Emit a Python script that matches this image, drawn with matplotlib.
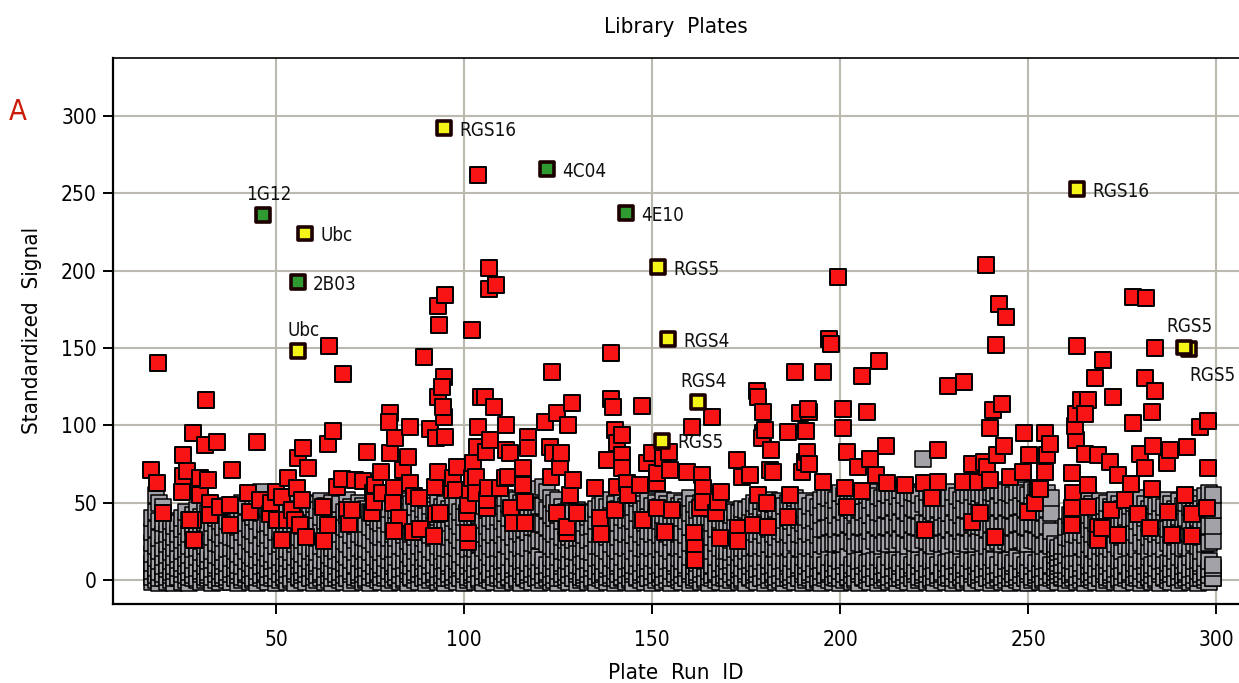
import matplotlib
matplotlib.use("Agg")
import matplotlib.pyplot as plt
from matplotlib import font_manager

# ---------------------------------------------------------------- data
# wells below the per-plate hit threshold, one row per plate run id
gray_plate_start = 17
gray_signal = [
    [-1,2,6,11,17,24,31,40], [0,3,8,14,22,33,44,55], [-2,1,5,12,19,27,38,50], [1,4,9,15,21,29,37,47], [-1,2,7,10,16,23,30,36],
    [0,3,5,12,18,25,31,38], [-2,1,6,9,15,21,28,35], [1,2,8,13,17,24,30,37], [-1,4,7,11,19,26,33,40], [0,3,9,14,20,28,35,44],
    [-2,2,5,10,16,22,30,39], [1,3,7,13,20,27,34,42], [0,1,8,15,21,29,36,45], [-1,4,6,11,18,25,33,41], [0,2,9,14,22,30,37,46],
    [1,3,5,12,17,26,34,43], [-2,2,7,13,19,28,37,47], [0,4,8,10,16,24,31,40], [-1,1,6,15,23,30,38,44], [1,3,9,12,18,27,34,42],
    [0,2,5,11,20,29,38,48], [-1,4,7,14,21,28,36,45], [1,1,8,13,19,27,37,46], [-2,3,6,10,17,26,34,43], [0,2,9,15,22,31,40,50],
    [1,4,5,12,19,28,37,48], [-1,3,7,11,16,25,33,44], [0,1,8,14,23,32,41,52], [-2,2,6,13,20,29,38,49], [1,3,9,15,22,33,44,57],
    [0,4,5,10,18,27,36,47], [-1,2,7,14,21,29,37,46], [1,3,8,12,17,26,34,44], [-2,1,6,13,22,31,39,48], [0,4,9,15,23,32,41,50],
    [1,2,5,11,19,28,36,45], [-1,3,7,14,20,30,39,49], [0,1,8,12,18,27,36,47], [-2,4,6,15,23,31,41,51], [1,2,9,13,19,28,37,46],
    [0,3,5,10,17,26,35,44], [-1,4,7,14,22,31,40,50], [1,1,8,12,19,28,37,47], [-2,2,6,15,21,30,39,49], [0,3,9,11,18,27,35,45],
    [1,4,5,13,22,32,41,51], [-1,2,7,12,20,29,38,48], [0,3,8,10,16,25,34,43], [-2,1,6,14,21,31,40,50], [1,4,9,13,19,27,36,46],
    [0,2,5,12,20,30,39,49], [-1,3,7,11,17,25,34,44], [1,1,8,15,23,33,42,52], [-2,4,6,13,20,29,38,47], [0,2,9,10,18,26,35,45],
    [1,3,5,14,21,30,40,50], [-1,4,7,12,19,28,37,48], [0,1,8,13,20,27,36,46], [-2,2,6,11,18,26,34,44], [1,3,9,15,23,32,41,51],
    [0,4,5,12,20,29,38,48], [-1,2,7,10,18,28,37,47], [1,3,8,14,21,30,39,49], [-2,1,6,13,19,27,36,46], [0,4,9,11,20,30,40,50],
    [1,2,5,15,20,27,35,45], [-1,3,7,12,22,32,41,51], [0,1,8,13,21,29,38,48], [-2,4,6,10,17,25,34,44], [1,2,9,14,22,30,39,49],
    [0,3,5,11,19,28,37,47], [-1,4,7,15,22,31,40,50], [1,1,8,12,18,27,36,46], [-2,2,6,14,23,32,42,52], [0,3,9,13,20,29,38,48],
    [1,4,5,10,18,27,35,45], [-1,2,7,15,22,32,41,51], [0,3,8,12,19,29,38,47], [-2,1,6,13,21,30,39,49], [1,4,9,11,20,28,37,46],
    [0,2,5,14,22,31,40,50], [-1,3,7,12,21,29,38,48], [1,1,8,10,17,26,35,44], [-2,4,6,15,22,31,41,51], [0,2,9,13,20,29,38,47],
    [1,3,5,11,21,30,39,49], [-1,4,7,14,20,28,37,46], [0,1,8,12,23,32,42,52], [-2,2,6,13,21,30,39,48], [1,3,9,10,18,27,35,45],
    [0,4,5,15,22,31,40,50], [-1,2,7,11,20,29,38,47], [1,3,8,14,21,31,41,51], [-2,1,6,12,20,29,38,48], [0,4,9,13,23,33,43,53],
    [1,2,5,15,22,31,40,49], [-1,3,7,10,19,28,37,46], [0,1,8,14,23,32,42,52], [-2,4,6,12,21,30,40,50], [1,2,9,13,22,33,44,54],
    [0,3,5,11,21,31,41,51], [-1,4,7,14,24,34,45,56], [1,1,8,12,23,34,44,55], [-2,2,6,15,26,37,48,59], [0,3,9,13,25,36,48,60],
    [1,4,5,10,23,34,45,57], [-1,2,7,14,22,32,42,53], [0,3,8,12,20,30,40,50], [-2,1,6,15,22,32,42,52], [1,4,9,11,19,28,38,47],
    [0,2,5,13,18,26,35,44], [-1,3,7,12,20,28,37,46], [1,1,8,14,19,26,35,43], [-2,4,6,10,18,27,36,45], [0,2,9,15,20,27,34,42],
    [1,3,5,12,21,29,37,44], [-1,4,7,13,19,26,34,41], [0,1,8,11,18,27,35,43], [-2,2,6,14,22,30,38,46], [1,3,9,15,22,31,40,48],
    [0,4,5,12,21,30,40,50], [-1,2,7,10,19,28,38,47], [1,3,8,14,23,33,42,52], [-2,1,6,13,21,30,39,49], [0,4,9,11,19,28,37,46],
    [1,2,5,15,22,31,41,51], [-1,3,7,12,21,30,39,48], [0,1,8,13,22,31,40,50], [-2,4,6,10,19,29,38,47], [1,2,9,14,24,33,43,53],
    [0,3,5,11,21,30,39,49], [-1,4,7,15,20,28,37,46], [1,1,8,12,22,32,41,51], [-2,2,6,14,21,30,39,48], [0,3,9,13,22,31,40,50],
    [1,4,5,10,20,29,38,47], [-1,2,7,15,23,33,42,52], [0,3,8,12,21,30,39,49], [-2,1,6,13,19,28,37,46], [1,4,9,11,22,32,41,51],
    [0,2,5,14,21,30,39,48], [-1,3,7,12,22,31,40,50], [1,1,8,10,20,29,38,47], [-2,4,6,15,24,34,43,53], [0,2,9,13,22,31,40,49],
    [1,3,5,11,19,28,36,45], [-1,4,7,14,22,31,40,50], [0,1,8,12,21,30,39,48], [-2,2,6,13,22,32,41,51], [1,3,9,10,19,28,37,46],
    [0,4,5,15,24,33,43,52], [-1,2,7,11,21,30,39,49], [1,3,8,14,19,27,36,44], [-2,1,6,12,19,27,36,45], [0,4,9,13,18,26,34,42],
    [1,2,5,15,20,28,36,44], [-1,3,7,10,18,26,34,43], [0,1,8,14,21,29,37,46], [-2,4,6,12,19,28,36,45], [1,2,9,13,21,30,38,47],
    [0,3,5,11,22,31,41,50], [-1,4,7,14,21,30,39,48], [1,1,8,12,22,32,41,51], [-2,2,6,15,21,29,38,47], [0,3,9,13,23,33,42,52],
    [1,4,5,10,21,30,39,49], [-1,2,7,15,20,28,37,46], [0,3,8,12,22,32,41,51], [-2,1,6,13,21,30,39,48], [1,4,9,11,22,31,40,50],
    [0,2,5,14,20,29,38,47], [-1,3,7,12,24,34,43,53], [1,1,8,10,21,30,39,49], [-2,4,6,15,20,29,37,46], [0,2,9,13,22,32,41,51],
    [1,3,5,11,21,30,39,48], [-1,4,7,14,22,31,40,50], [0,1,8,12,20,29,38,47], [-2,2,6,13,23,33,42,52], [1,3,9,10,22,33,44,54],
    [0,4,5,15,23,34,44,53], [-1,2,7,11,24,35,45,55], [1,3,8,14,23,33,42,52], [-2,1,6,12,24,35,46,56], [0,4,9,13,23,34,44,54],
    [1,2,5,15,25,36,47,57], [-1,3,7,10,24,35,45,55], [0,1,8,14,22,32,43,53], [-2,4,6,12,24,35,46,56], [1,2,9,13,23,34,44,54],
    [0,3,5,11,24,35,45,55], [-1,4,7,14,22,32,42,52], [1,1,8,12,25,36,47,57], [-2,2,6,15,23,34,44,54], [0,3,9,13,22,33,43,53],
    [1,4,5,10,24,35,46,56], [-1,2,7,15,23,34,45,55], [0,3,8,12,25,36,47,57], [-2,1,6,13,23,34,44,54], [1,4,9,11,26,37,48,58],
    [0,2,5,14,23,34,45,55], [-1,3,7,12,22,33,43,53], [1,1,8,10,25,36,47,57], [-2,4,6,15,24,35,46,56], [0,2,9,13,23,34,45,55],
    [1,3,5,11,26,37,49,78], [-1,4,7,14,25,36,47,57], [0,1,8,12,23,34,45,55], [-2,2,6,13,22,33,43,53], [1,3,9,10,24,35,46,56],
    [0,4,5,15,23,34,44,54], [-1,2,7,11,24,35,45,55], [1,3,8,14,22,33,43,53], [-2,1,6,12,25,36,47,57], [0,4,9,13,23,34,44,54],
    [1,2,5,15,22,32,42,52], [-1,3,7,10,24,35,46,56], [0,1,8,14,23,34,45,55], [-2,4,6,12,25,36,47,57], [1,2,9,13,23,34,44,54],
    [0,3,5,11,25,35,46,56], [-1,4,7,14,24,34,45,55], [1,1,8,12,22,33,43,53], [-2,2,6,15,25,36,47,57], [0,3,9,13,24,35,46,56],
    [1,4,5,10,25,36,47,58], [-1,2,7,15,23,34,45,55], [0,3,8,12,25,36,47,57], [-2,1,6,13,24,35,46,56], [1,4,9,11,23,34,45,55],
    [0,2,5,14,25,36,47,57], [-1,3,7,12,26,37,48,58], [1,1,8,10,24,35,46,56], [-2,4,6,15,23,34,45,55], [0,2,9,13,26,37,48,58],
    [1,3,5,11,25,36,47,57], [-1,4,7,14,23,34,45,55], [0,1,8,12,22,33,44,54], [-2,2,6,13,24,35,46,56], [1,3,9,10,22,32,43,53],
    [0,2,5,8,12,16,20,23], [-1,3,6,9,11,14,18,21], [1,2,4,7,10,15,19,22], [-2,1,6,10,16,22,28,34], [0,3,8,13,20,27,35,42],
    [1,4,5,12,21,30,39,48], [-1,2,7,14,21,29,38,47], [0,3,8,11,22,31,40,50], [-2,1,6,15,20,29,38,47], [1,4,9,13,23,33,42,52],
    [0,2,5,10,21,30,39,49], [-1,3,7,14,19,28,37,46], [1,1,8,12,22,32,41,51], [-2,4,6,15,21,30,39,48], [0,2,9,13,22,31,40,50],
    [1,3,5,11,20,29,38,47], [-1,4,7,14,23,33,42,52], [0,1,8,12,21,30,39,49], [-2,2,6,13,19,28,37,46], [1,3,9,10,22,32,41,51],
    [0,4,5,15,21,30,39,48], [-1,2,7,11,22,31,40,50], [1,3,8,14,20,29,38,47], [-2,1,6,12,24,34,43,53], [0,4,9,13,22,31,40,49],
    [1,2,5,15,19,28,37,46], [-1,3,7,10,22,32,41,51], [0,1,8,14,21,30,39,48], [-2,4,6,12,22,31,40,50], [1,2,9,13,20,29,38,47],
    [0,3,5,11,24,33,43,52], [-1,4,7,14,21,30,39,49], [1,1,8,12,19,28,37,46], [-2,2,6,15,22,32,41,51], [0,3,9,13,21,30,39,48],
    [1,4,5,10,22,31,40,50], [-1,2,7,15,21,30,38,47], [0,3,8,12,24,34,43,53], [-2,1,6,13,22,31,40,49], [1,4,9,11,19,28,37,46],
    [0,2,5,14,23,33,44,54], [-1,3,7,12,24,35,46,56], [1,1,8,10,25,35,45,55],
]

# wells flagged as hits (plate run id, standardized signal)
hit_plate = [
    16.9, 18.5, 18.4, 20.0, 25.4, 25.3, 24.9, 28.0, 28.0, 28.3, 26.4, 27.1, 29.9, 29.8,
    31.4, 31.1, 32.0, 32.5, 32.5, 34.2, 35.1, 37.9, 37.8, 38.3, 42.5, 43.1, 44.9, 45.7,
    48.4, 48.8, 49.9, 50.2, 51.5, 51.5, 52.8, 53.3, 54.2, 55.0, 55.5, 55.9, 57.2, 56.8, 56.4, 58.6, 58.1,
    62.6, 63.9, 64.2, 65.2, 66.1, 67.5, 67.9, 68.8, 69.4, 70.1, 71.0, 62.8, 63.7, 73.2, 74.2, 75.6,
    75.9, 76.3, 76.1, 78.0, 78.1, 80.2, 80.1, 80.2, 81.6, 81.5, 81.2, 82.8, 81.3,
    83.8, 85.0, 85.6, 85.6, 86.7, 86.5, 88.0, 88.3, 89.3, 90.9, 92.2, 92.5, 92.5, 92.0, 93.1, 93.2,
    93.0, 93.0, 94.7, 94.1, 94.9, 94.7, 94.5, 94.9, 93.6, 96.7, 97.1, 97.8, 98.2,
    100.7, 101.1, 101.1, 101.1, 101.6, 102.2, 102.2, 102.5, 103.2, 103.3, 103.5, 103.7, 103.8, 104.4,
    105.6, 105.8, 106.0, 106.0, 106.4, 106.6, 106.6, 106.9, 108.5, 108.0, 109.5, 110.9, 111.2, 111.1,
    111.8, 112.2, 112.6, 112.9, 115.6, 115.7, 116.2, 116.2, 117.1, 117.1,
    121.5, 122.8, 123.1, 123.4, 123.7, 124.6, 124.6, 125.5, 125.8, 127.3, 127.4, 127.7, 128.2, 128.6,
    129.0, 129.9, 134.8, 136.1, 136.4, 137.9, 139.0, 139.1, 139.7,
    140.1, 140.1, 140.6, 140.6, 141.9, 141.9, 141.9, 143.2, 143.7, 146.8, 147.2, 147.6, 148.5, 149.9,
    151.2, 151.2, 151.2, 153.0, 153.4, 154.5, 154.7, 155.2, 159.2, 160.6,
    161.0, 161.4, 161.4, 162.7, 163.3, 163.6, 163.6, 165.9, 167.1, 167.6, 168.0, 168.3, 172.5, 172.9,
    172.9, 173.8, 176.0, 176.9, 177.8, 178.2, 178.2, 179.4, 179.5, 179.1,
    180.0, 180.4, 180.9, 181.3, 181.5, 182.0, 186.2, 186.2, 186.6, 188.0, 189.3, 189.9, 191.0, 190.6,
    191.1, 191.7, 191.4, 191.7, 195.5, 195.5, 197.0, 197.5, 199.4,
    200.7, 200.7, 201.2, 201.7, 201.9, 204.8, 205.7, 205.9, 207.1, 207.8, 209.6, 210.2, 212.1, 212.3, 217.2,
    222.2, 222.6, 224.3, 226.1, 226.1, 228.6, 233.0, 232.7, 234.9, 234.9, 236.7, 237.1, 238.3, 238.7,
    238.9, 239.8, 239.8,
    240.6, 241.1, 241.4, 241.6, 242.2, 243.0, 243.6, 244.0, 245.1, 248.6, 248.9, 250.2, 250.0, 251.8,
    252.6, 254.4, 254.4, 254.9, 255.7, 253.1,
    261.5, 262.0, 261.5, 261.5, 262.8, 262.4, 262.8, 262.9, 264.0, 265.9, 265.0, 265.0, 265.9, 265.9,
    267.7, 268.6, 268.6, 268.6, 269.5, 269.9, 271.7, 272.1, 272.6, 273.9, 273.9, 275.7,
    277.4, 277.9, 277.9, 279.2, 279.7, 281.0, 281.0, 281.2, 282.3, 282.8, 282.8, 283.2, 283.6, 283.8,
    286.8, 287.2, 287.6, 288.1, 291.6, 292.1, 293.4, 293.4, 295.6, 297.8, 297.8, 297.4,
]
hit_signal = [
    71.0, 140.5, 62.5, 43.0, 80.8, 67.0, 57.0, 94.9, 38.8, 25.9, 70.7, 38.8, 66.0, 55.0,
    116.3, 87.3, 64.7, 49.7, 42.0, 89.5, 47.4, 48.5, 35.6, 70.9, 56.0, 44.2, 89.3, 51.7,
    42.5, 49.6, 57.1, 38.8, 53.9, 25.9, 38.8, 65.8, 45.3, 38.8, 59.3, 78.7, 85.3, 51.7, 35.6, 72.2, 28.0,
    47.4, 88.2, 151.5, 96.5, 60.3, 65.1, 133.5, 45.3, 36.0, 45.2, 64.7, 25.4, 35.6, 64.2, 83.0, 43.1,
    56.0, 61.4, 50.6, 69.8, 56.0, 108.2, 101.9, 81.9, 91.6, 59.7, 49.6, 39.9, 31.8,
    71.1, 79.7, 99.0, 62.5, 54.0, 31.3, 52.8, 32.8, 144.2, 97.6, 60.3, 91.6, 42.7, 28.5, 70.0, 165.0,
    177.0, 118.5, 131.5, 125.0, 184.3, 105.6, 111.6, 92.7, 43.1, 58.2, 65.8, 58.2, 73.3,
    43.1, 24.8, 30.2, 48.5, 58.2, 161.4, 65.7, 75.5, 56.5, 66.8, 86.0, 261.8, 99.2, 118.5,
    118.5, 83.0, 46.4, 51.7, 59.3, 201.7, 188.0, 90.5, 190.7, 112.0, 59.3, 65.7, 100.2, 84.0,
    66.8, 81.9, 46.4, 36.6, 72.2, 61.4, 50.6, 36.7, 92.7, 85.1,
    102.4, 86.2, 66.8, 134.5, 81.9, 107.8, 43.1, 73.3, 81.9, 30.2, 34.5, 100.2, 54.9, 114.2,
    64.7, 43.1, 59.3, 39.9, 29.7, 77.6, 146.8, 117.0, 112.1,
    97.0, 45.3, 60.3, 88.4, 93.7, 80.8, 72.2, 62.5, 55.0, 61.4, 112.3, 38.8, 75.4, 81.9,
    62.5, 69.0, 46.4, 78.7, 31.3, 83.0, 71.1, 45.3, 70.0, 99.2,
    30.2, 20.5, 13.0, 46.4, 67.9, 59.3, 50.6, 105.4, 43.1, 50.6, 27.0, 57.1, 77.6, 33.4,
    25.4, 66.8, 67.6, 35.6, 122.2, 118.1, 54.9, 108.8, 94.9, 91.6,
    97.0, 49.6, 34.5, 71.1, 84.0, 70.0, 95.6, 41.0, 55.0, 134.5, 107.8, 70.0, 96.2, 76.5,
    83.0, 108.8, 110.6, 75.0, 134.3, 63.1, 155.5, 152.5, 195.9,
    110.5, 98.3, 59.3, 47.4, 83.0, 73.3, 57.6, 131.9, 108.9, 78.3, 67.9, 141.7, 86.6, 62.5, 61.4,
    62.5, 32.2, 52.8, 63.6, 84.0, 125.4, 128.0, 63.6, 74.8, 37.7, 63.1, 43.0, 76.5, 203.7,
    73.3, 98.1, 64.7,
    110.0, 28.0, 152.0, 80.8, 178.4, 113.8, 86.8, 170.0, 66.8, 70.0, 95.3, 80.8, 44.2, 49.6,
    59.3, 94.9, 70.0, 80.8, 88.2, 58.8,
    69.0, 56.0, 35.6, 46.3, 90.5, 99.6, 107.5, 151.3, 116.6, 116.2, 107.5, 81.4, 61.4, 47.4,
    130.6, 80.8, 34.5, 26.1, 33.9, 142.1, 76.5, 45.3, 118.4, 67.9, 29.4, 52.0,
    62.3, 101.3, 183.0, 42.9, 81.4, 72.5, 130.9, 182.0, 33.9, 108.7, 59.0, 86.4, 150.2, 122.3,
    75.6, 44.1, 84.1, 29.4, 55.0, 86.0, 42.9, 28.2, 99.2, 102.5, 72.5, 46.4,
]

# confirmed controls and named hits
named_plate = [46.5, 57.7, 55.8, 55.8, 94.7, 122.0, 143.0, 151.5, 154.2, 162.2, 152.6, 262.9, 292.7, 291.4]
named_signal = [236.0, 224.0, 192.7, 148.0, 292.0, 265.7, 237.0, 202.4, 155.8, 115.0, 90.0, 252.8, 149.5, 150.3]
named_label = ["1G12", "Ubc", "2B03", "Ubc", "RGS16", "4C04", "4E10", "RGS5", "RGS4", "RGS4", "RGS5", "RGS16", "RGS5", "RGS5"]
named_kind = ["clone", "control", "clone", "control", "control", "clone", "clone",
              "control", "control", "control", "control", "control", "control", "control"]
label_side = ["above", "right", "right", "above", "right", "right", "right",
              "right", "right", "above", "right", "right", "below", "above"]

x_ticks = [50, 100, 150, 200, 250, 300]
y_ticks = [0, 50, 100, 150, 200, 250, 300]

# ---------------------------------------------------------------- style
# prefer a narrow sans face when one is installed
family, stretch = "DejaVu Sans", "normal"
for f in font_manager.fontManager.ttflist:
    if f.name == "Liberation Sans Narrow":
        family, stretch = f.name, "normal"
        break
else:
    for f in font_manager.fontManager.ttflist:
        if f.name == "DejaVu Sans" and "Condensed" in f.fname and "Bold" not in f.fname \
                and "Oblique" not in f.fname:
            family, stretch = "DejaVu Sans", "condensed"
            break
plt.rcParams["font.family"] = [family, "DejaVu Sans"]
plt.rcParams["font.stretch"] = stretch

RED = "#f81414"
GRAY = "#a2a2a8"
YELLOW = "#f4f418"
GREEN = "#2f9a2f"
GRID = "#bcb9b1"

fig = plt.figure(figsize=(12.39, 6.83), dpi=100)
ax = fig.add_axes([0.0916, 0.1157, 0.9084, 0.8001])

gx, gy = [], []
for i, vals in enumerate(gray_signal):
    for v in vals:
        gx.append(gray_plate_start + i)
        gy.append(v)

ax.scatter(gx, gy, s=117, marker="s", facecolor=GRAY, edgecolor="black",
           linewidth=1.1, zorder=2)
ax.scatter(hit_plate, hit_signal, s=117, marker="s", facecolor=RED,
           edgecolor="black", linewidth=1.4, zorder=3)

fill = [GREEN if k == "clone" else YELLOW for k in named_kind]
ax.scatter(named_plate, named_signal, s=100, marker="s", facecolor=fill,
           edgecolor="#1c0000", linewidth=2.6, zorder=4)

offsets = {"right": ((11, -1.5), "left"), "above": ((4, 15), "center"),
           "below": ((17, -19), "center")}
for x, y, txt, side in zip(named_plate, named_signal, named_label, label_side):
    off, ha = offsets[side]
    ax.annotate(txt, (x, y), xytext=off, textcoords="offset points",
                ha=ha, va="center", fontsize=13.5, color="#111111", zorder=5)

ax.set_xlim(6.8, 306)
ax.set_ylim(-15.5, 337.8)
ax.set_xticks(x_ticks)
ax.set_yticks(y_ticks)
ax.grid(True, color=GRID, linewidth=1.5, zorder=0)
ax.set_axisbelow(True)

for side in ("left", "bottom"):
    ax.spines[side].set_linewidth(1.6)
    ax.spines[side].set_color("black")
ax.spines["top"].set_linewidth(1.2)
ax.spines["right"].set_visible(False)

ax.tick_params(axis="both", direction="out", length=7, width=1.4, labelsize=15,
               colors="black")
ax.tick_params(axis="x", pad=12)
ax.tick_params(axis="y", pad=5)

ax.set_xlabel("Plate  Run  ID", fontsize=16, labelpad=9)
ax.set_ylabel("Standardized  Signal", fontsize=16, labelpad=14)
ax.set_title("Library  Plates", fontsize=16, pad=18)

fig.text(18 / 1239, 1 - 112 / 683, "A", color="#cc1a08", fontsize=21,
         ha="center", va="center")

fig.savefig("out.png", dpi=100)
